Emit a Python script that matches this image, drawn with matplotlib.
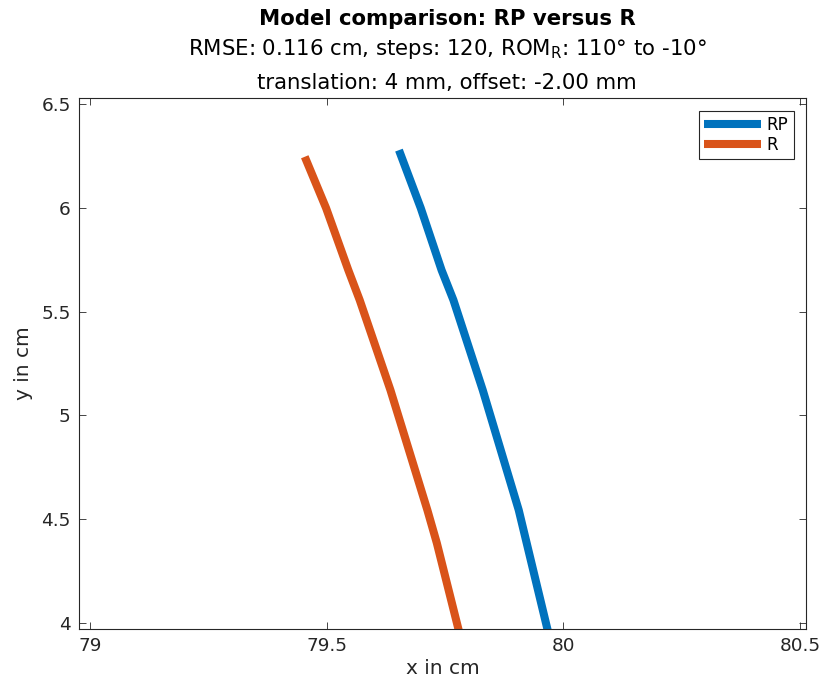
import numpy as np
import matplotlib
matplotlib.use("Agg")
import matplotlib.pyplot as plt

# trajectories (cm)
rp_x = [79.653, 79.699, 79.743, 79.768, 79.830, 79.906, 79.966, 79.969]
rp_y = [6.278, 5.999, 5.700, 5.556, 5.122, 4.544, 3.976, 3.950]
r_x = [79.454, 79.499, 79.546, 79.570, 79.635, 79.713, 79.733, 79.778, 79.781]
r_y = [6.246, 5.999, 5.700, 5.556, 5.122, 4.544, 4.385, 3.976, 3.950]

x_ticks = [79, 79.5, 80, 80.5]
y_ticks = [4, 4.5, 5, 5.5, 6, 6.5]

plt.rcParams['font.family'] = ['DejaVu Sans']
axcol = '#262626'

fig = plt.figure(figsize=(8.2, 6.86), dpi=100)
ax = fig.add_axes([0.0963, 0.0831, 0.8867, 0.774])

ax.plot(rp_x, rp_y, color='#0072BD', lw=5.8, label='RP', solid_capstyle='butt')
ax.plot(r_x, r_y, color='#D95319', lw=5.8, label='R', solid_capstyle='butt')

ax.set_xlim(78.977, 80.513)
ax.set_ylim(3.971, 6.529)
ax.set_xticks(x_ticks)
ax.set_xticklabels(['79', '79.5', '80', '80.5'])
ax.set_yticks(y_ticks)
ax.set_yticklabels(['4', '4.5', '5', '5.5', '6', '6.5'])
ax.tick_params(direction='in', top=True, right=True, length=5, width=0.6,
               colors=axcol, labelsize=13.3, pad=6)
for s in ax.spines.values():
    s.set_color(axcol)
    s.set_linewidth(0.8)

ax.set_xlabel('x in cm', fontsize=14.5, color=axcol, labelpad=3)
ax.set_ylabel('y in cm', fontsize=14.5, color=axcol, labelpad=6)

fig.text(0.545, 0.972, 'Model comparison: RP versus R', ha='center', va='center',
         fontsize=15.3, fontweight='bold', color='black')
fig.text(0.545, 0.929, r'RMSE: 0.116 cm, steps: 120, ROM$_\mathrm{R}$: 110° to -10°',
         ha='center', va='center', fontsize=15.3, color='black')
fig.text(0.545, 0.879, 'translation: 4 mm, offset: -2.00 mm', ha='center', va='center',
         fontsize=15.3, color='black')

leg = ax.legend(loc='upper right', fontsize=12, handlelength=3.4, borderaxespad=0.75,
                fancybox=False, framealpha=1, edgecolor=axcol, labelspacing=0.15,
                handletextpad=0.35, borderpad=0.3)
leg.get_frame().set_linewidth(0.8)

fig.savefig('out.png', dpi=100)
